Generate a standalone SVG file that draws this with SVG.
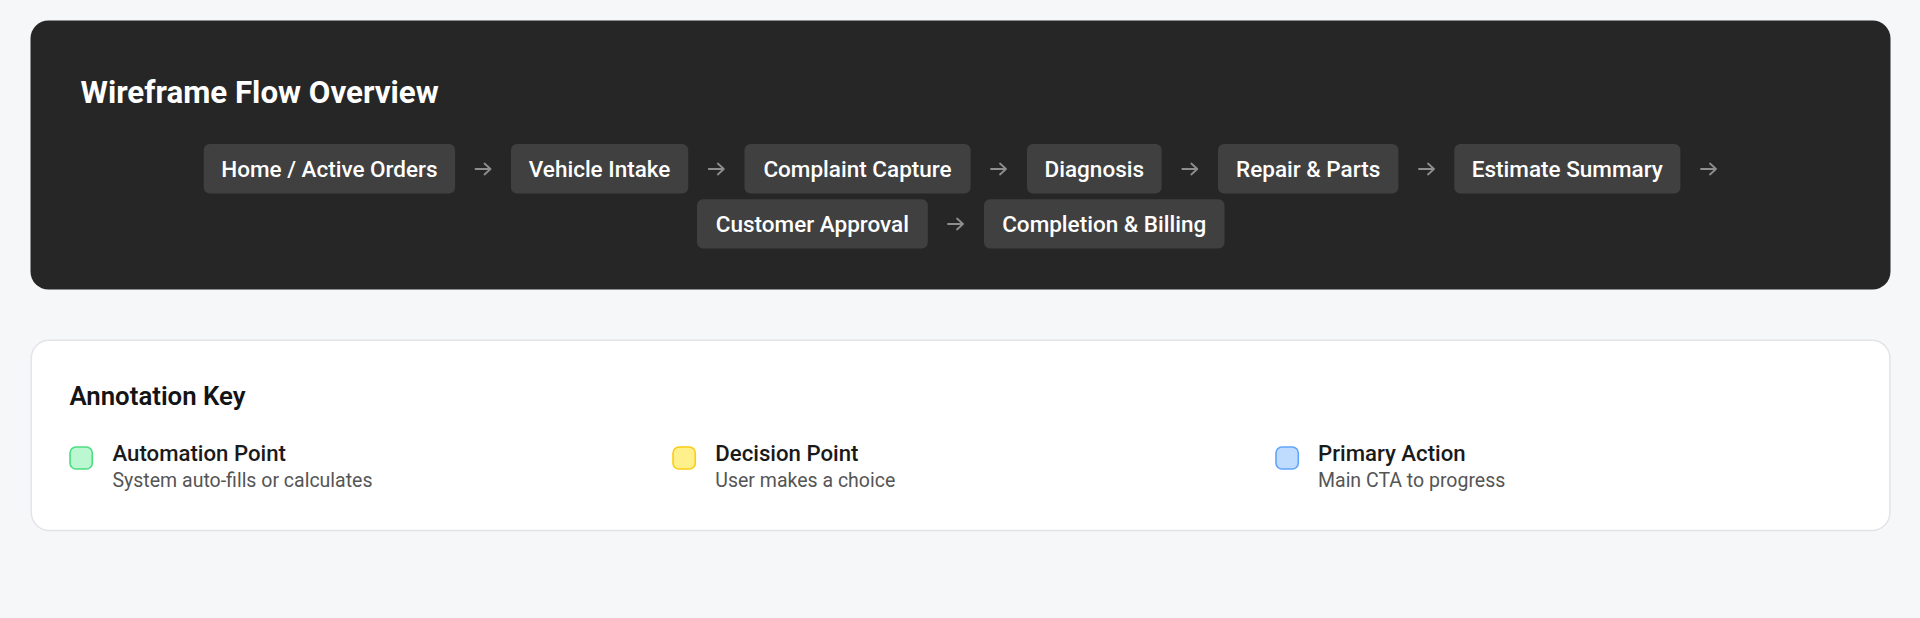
<svg xmlns="http://www.w3.org/2000/svg" width="1920" height="618" viewBox="0 0 1920 618">
<defs>
<style>
.bg{fill:#f6f7f9}
.panel{fill:#262626}
.node rect{fill:#404040}
.node text{font-family:Roboto,"Liberation Sans",Arial,sans-serif;font-weight:500;font-size:22.5px;fill:#ffffff;text-anchor:middle}
.title{font-family:Roboto,"Liberation Sans",Arial,sans-serif;font-weight:700;font-size:31.3px;fill:#ffffff}
.conn path{fill:none;stroke:#8e8e8e;stroke-width:1.8;stroke-linecap:round;stroke-linejoin:round}
.card{fill:#ffffff;stroke:#e2e4e8;stroke-width:1.5}
.keyh{font-family:Roboto,"Liberation Sans",Arial,sans-serif;font-weight:600;font-size:25.8px;fill:#141414}
.kt{font-family:Roboto,"Liberation Sans",Arial,sans-serif;font-weight:500;font-size:22.2px;fill:#1a1a1a}
.kd{font-family:Roboto,"Liberation Sans",Arial,sans-serif;font-weight:400;font-size:19.5px;fill:#555555}
.sw{stroke-width:1.6}
</style>
</defs>
<rect class="bg" x="0" y="0" width="1920" height="618"/>
<g id="flow-panel">
<rect class="panel" x="30.5" y="20.5" width="1860" height="269" rx="18"/>
<text class="title" x="80.5" y="102.5">Wireframe Flow Overview</text>
</g>
<g id="node-home" class="node"><rect x="203.7" y="144" width="251.4" height="49.4" rx="6"/><text x="329.4" y="176.6">Home / Active Orders</text></g>
<g id="node-intake" class="node"><rect x="511" y="144" width="177.2" height="49.4" rx="6"/><text x="599.6" y="176.6">Vehicle Intake</text></g>
<g id="node-complaint" class="node"><rect x="744.5" y="144" width="226.1" height="49.4" rx="6"/><text x="857.5" y="176.6">Complaint Capture</text></g>
<g id="node-diagnosis" class="node"><rect x="1027" y="144" width="134.6" height="49.4" rx="6"/><text x="1094.3" y="176.6">Diagnosis</text></g>
<g id="node-repair" class="node"><rect x="1218" y="144" width="180.4" height="49.4" rx="6"/><text x="1308.2" y="176.6">Repair &amp; Parts</text></g>
<g id="node-estimate" class="node"><rect x="1454.3" y="144" width="226.1" height="49.4" rx="6"/><text x="1567.3" y="176.6">Estimate Summary</text></g>
<g id="node-approval" class="node"><rect x="697" y="199.3" width="230.8" height="49.2" rx="6"/><text x="812.4" y="231.7">Customer Approval</text></g>
<g id="node-billing" class="node"><rect x="984" y="199.3" width="240.5" height="49.2" rx="6"/><text x="1104.2" y="231.7">Completion &amp; Billing</text></g>
<g id="connectors" class="conn">
<path d="M475.5 169 H490.5 M484.5 163.5 L490.5 169 L484.5 174.5"/>
<path d="M708.8 169 H723.8 M717.8 163.5 L723.8 169 L717.8 174.5"/>
<path d="M991 169 H1006 M1000 163.5 L1006 169 L1000 174.5"/>
<path d="M1182.3 169 H1197.3 M1191.3 163.5 L1197.3 169 L1191.3 174.5"/>
<path d="M1419 169 H1434 M1428 163.5 L1434 169 L1428 174.5"/>
<path d="M1701 169 H1716 M1710 163.5 L1716 169 L1710 174.5"/>
<path d="M948 224 H963 M957 218.5 L963 224 L957 229.5"/>
</g>
<g id="annotation-key">
<rect class="card" x="31.3" y="340.3" width="1858.6" height="190.2" rx="18"/>
<text class="keyh" x="69.4" y="405">Annotation Key</text>
</g>
<g id="key-automation">
<rect class="sw" x="70" y="447" width="22.3" height="22" rx="6" fill="#bbf7d0" stroke="#4ade80"/>
<text class="kt" x="112.5" y="461">Automation Point</text>
<text class="kd" x="112.5" y="487">System auto-fills or calculates</text>
</g>
<g id="key-decision">
<rect class="sw" x="673" y="447" width="22.3" height="22" rx="6" fill="#fef08a" stroke="#facc15"/>
<text class="kt" x="715.3" y="461">Decision Point</text>
<text class="kd" x="715.3" y="487">User makes a choice</text>
</g>
<g id="key-primary">
<rect class="sw" x="1276" y="447" width="22.3" height="22" rx="6" fill="#bfdbfe" stroke="#60a5fa"/>
<text class="kt" x="1318" y="461">Primary Action</text>
<text class="kd" x="1318" y="487">Main CTA to progress</text>
</g>
</svg>
